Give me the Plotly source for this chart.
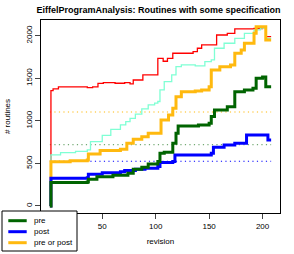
import plotly.graph_objects as go

# ---- data (revision, # routines) ----
red_rev = [1, 2, 4, 9, 36, 41, 46, 51, 62, 71, 76, 79, 88, 102, 107, 111, 116, 135, 139, 143, 157, 167, 174, 192, 200, 203, 208]
red_val = [0, 1355, 1375, 1400, 1390, 1400, 1440, 1450, 1442, 1450, 1435, 1480, 1540, 1735, 1700, 1735, 1794, 1813, 1853, 1892, 2009, 2029, 2080, 2085, 2095, 1990, 1990]

cyan_rev = [1, 2, 11, 25, 36, 39, 50, 58, 67, 72, 76, 81, 87, 93, 99, 102, 104, 108, 115, 119, 124, 137, 146, 152, 155, 164, 174, 183, 192, 198, 203, 208]
cyan_val = [0, 600, 626, 640, 658, 755, 830, 900, 952, 990, 1030, 1080, 1140, 1187, 1207, 1227, 1363, 1461, 1540, 1637, 1657, 1645, 1696, 1716, 1853, 1912, 1970, 2029, 2068, 2090, 1970, 1970]

pre_rev = [1, 2, 36, 37, 45, 60, 74, 79, 87, 93, 102, 104, 108, 116, 119, 121, 140, 150, 152, 155, 167, 174, 183, 191, 194, 200, 203, 208]
pre_val = [0, 274, 280, 315, 344, 360, 384, 431, 455, 494, 521, 619, 631, 736, 854, 940, 952, 972, 1050, 1128, 1167, 1343, 1363, 1382, 1500, 1515, 1402, 1402]

post_rev = [1, 2, 36, 37, 50, 67, 71, 81, 90, 102, 104, 116, 118, 141, 152, 154, 164, 174, 183, 185, 203, 205, 208]
post_val = [0, 325, 330, 372, 390, 403, 415, 431, 443, 462, 509, 521, 600, 600, 619, 690, 717, 736, 736, 834, 834, 776, 776]

prepost_rev = [1, 2, 20, 36, 37, 48, 67, 73, 79, 87, 93, 102, 105, 112, 116, 119, 124, 137, 143, 150, 152, 160, 170, 174, 180, 183, 192, 194, 203, 208]
prepost_val = [0, 520, 530, 540, 611, 650, 666, 736, 783, 814, 854, 854, 1010, 1069, 1148, 1284, 1343, 1350, 1363, 1402, 1598, 1637, 1657, 1794, 1833, 1912, 2029, 2107, 1950, 1950]

ref_rev = [1, 208]
ref_prepost = 1104
ref_pre = 720
ref_post = 525

x_ticks = [50, 100, 150, 200]
y_ticks = [0, 500, 1000, 1500, 2000]
legend_names = ["pre", "post", "pre or post"]

RED = "#FF0000"
CYAN = "#7FFFD4"
GREEN = "#006400"
BLUE = "#0000FF"
ORANGE = "#FFB90F"
legend_colors = [GREEN, BLUE, ORANGE]

fig = go.Figure()

# dotted reference levels
for val, col in [(ref_prepost, ORANGE), (ref_pre, "rgba(0,100,0,0.55)"), (ref_post, BLUE)]:
    fig.add_trace(go.Scatter(x=ref_rev, y=[val, val], mode="lines",
                             line=dict(color=col, width=1.2, dash="1.2px,3.3px"),
                             showlegend=False, hoverinfo="skip"))

fig.add_trace(go.Scatter(x=red_rev, y=red_val, mode="lines", line_shape="hv",
                         line=dict(color=RED, width=1.3), showlegend=False))
fig.add_trace(go.Scatter(x=cyan_rev, y=cyan_val, mode="lines", line_shape="hv",
                         line=dict(color=CYAN, width=1.3), showlegend=False))
fig.add_trace(go.Scatter(x=prepost_rev, y=prepost_val, mode="lines", line_shape="hv",
                         line=dict(color=ORANGE, width=3), name="pre or post", showlegend=False))
fig.add_trace(go.Scatter(x=post_rev, y=post_val, mode="lines", line_shape="hv",
                         line=dict(color=BLUE, width=3), name="post", showlegend=False))
fig.add_trace(go.Scatter(x=pre_rev, y=pre_val, mode="lines", line_shape="hv",
                         line=dict(color=GREEN, width=3), name="pre", showlegend=False))

FONT = "Liberation Sans, Arial, sans-serif"

# manual legend (paper coords: x=(px-41)/239, y=(213-py)/193)
def px_x(p):
    return (p - 41) / 239.0

def px_y(p):
    return (213 - p) / 193.0

shapes = [dict(type="rect", xref="paper", yref="paper",
               x0=px_x(2), x1=px_x(77), y0=px_y(251), y1=px_y(211),
               line=dict(color="black", width=1), fillcolor="white", layer="above")]
annotations = []
for i, (nm, col) in enumerate(zip(legend_names, legend_colors)):
    yy = 220.7 + 11 * i
    shapes.append(dict(type="line", xref="paper", yref="paper",
                       x0=px_x(8.3), x1=px_x(26.7), y0=px_y(yy), y1=px_y(yy),
                       line=dict(color=col, width=3), layer="above"))
    annotations.append(dict(text=nm, xref="paper", yref="paper",
                            x=px_x(32), y=px_y(yy), xanchor="left", yanchor="middle",
                            showarrow=False, font=dict(size=8, family=FONT)))

fig.update_layout(
    width=294, height=254,
    margin=dict(l=41, r=14, t=20, b=41, autoexpand=False),
    paper_bgcolor="white", plot_bgcolor="white",
    font=dict(family=FONT, size=8, color="black"),
    title=dict(text="<b>EiffelProgramAnalysis: Routines with some specification</b>",
               xref="paper", x=0.4916, xanchor="center", y=0.96, yanchor="middle",
               font=dict(size=9, family=FONT)),
    showlegend=False,
    shapes=shapes,
    annotations=annotations,
)
fig.update_xaxes(range=[-7.3, 216.3], tickvals=x_ticks, ticks="outside", ticklen=5,
                 showline=True, mirror=True, linecolor="black", linewidth=1,
                 showgrid=False, zeroline=False,
                 title=dict(text="revision", standoff=8, font=dict(size=8)))
fig.update_yaxes(range=[-83, 2185], tickvals=y_ticks, ticks="outside", ticklen=5,
                 tickangle=-90,
                 showline=True, mirror=True, linecolor="black", linewidth=1,
                 showgrid=False, zeroline=False,
                 title=dict(text="# routines", standoff=12, font=dict(size=8)))

fig.write_html("out.html",
               config={"displayModeBar": False},
               post_script="document.body.style.margin='0';document.body.style.overflow='hidden';")
